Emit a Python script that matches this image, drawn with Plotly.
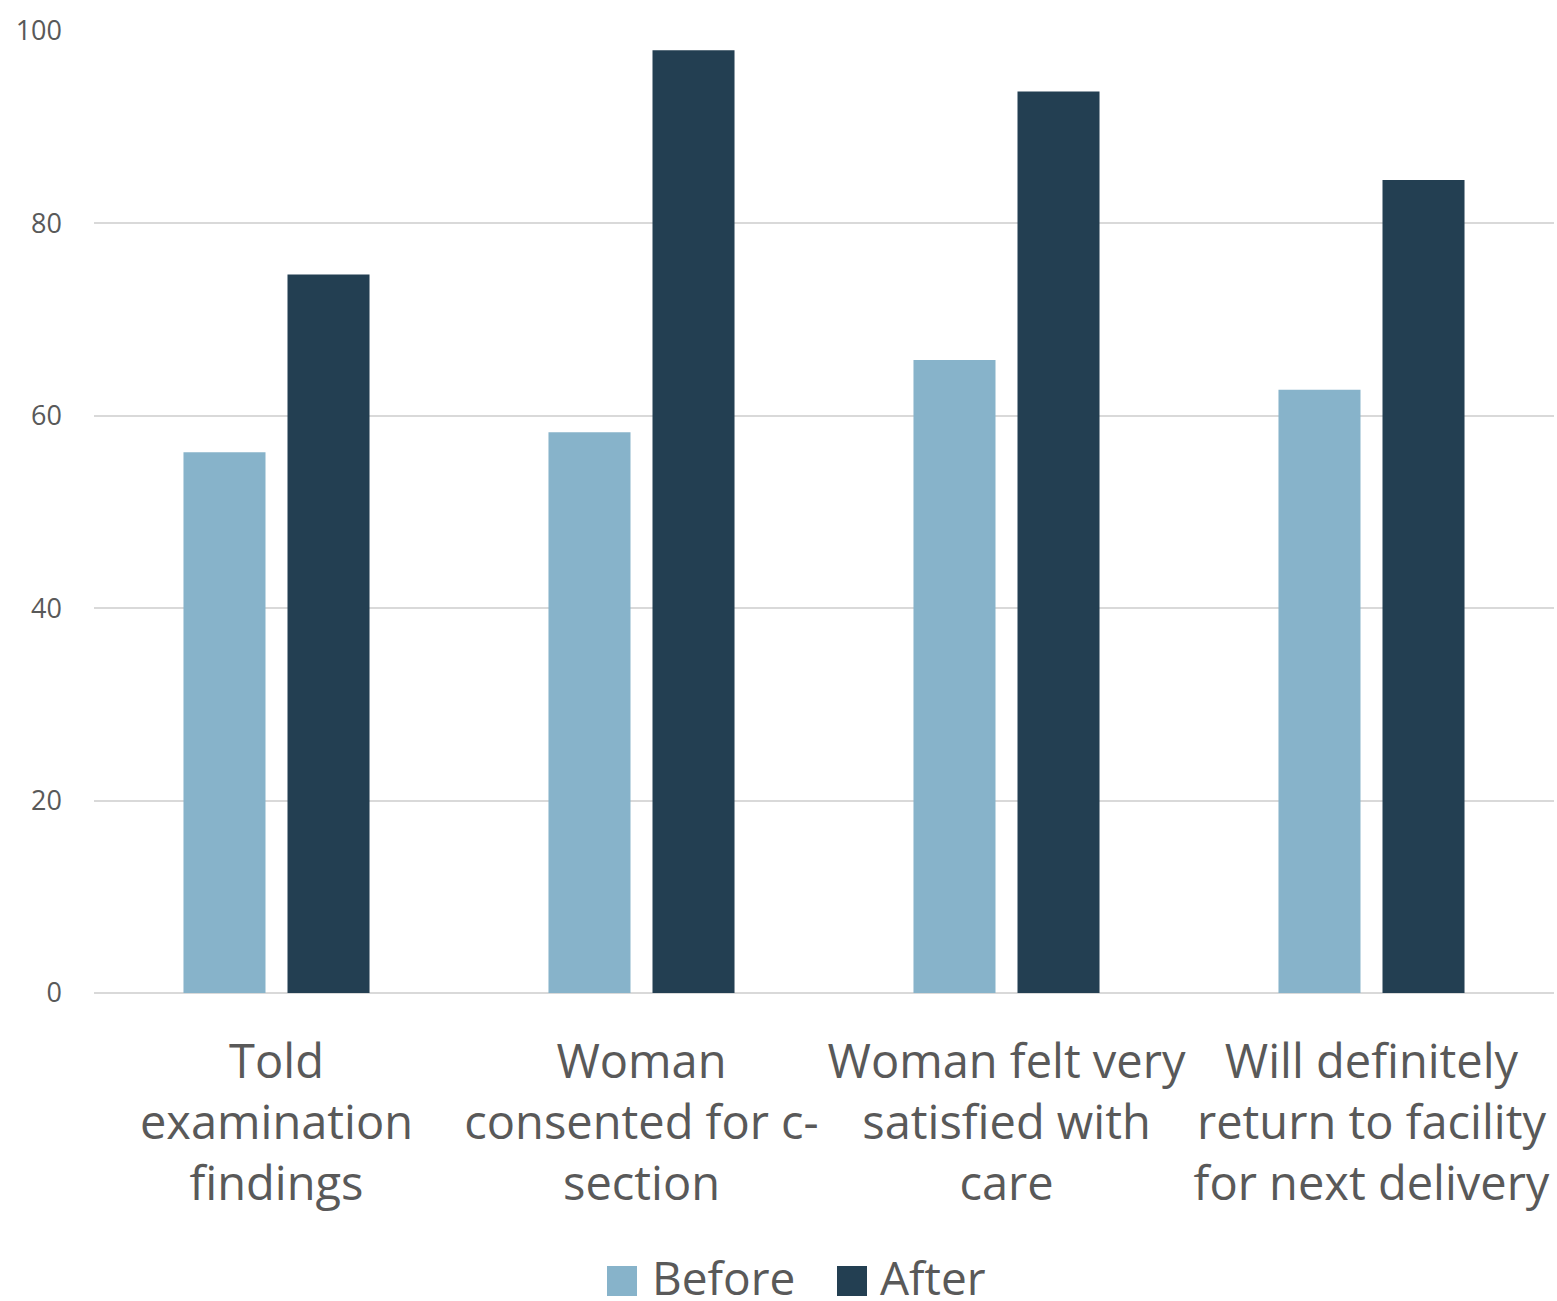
import plotly.graph_objects as go

categories = [
    "Told<br>examination<br>findings",
    "Woman<br>consented for c-<br>section",
    "Woman felt very<br>satisfied with<br>care",
    "Will definitely<br>return to facility<br>for next delivery",
]
before_values = [56.2, 58.3, 65.8, 62.7]
after_values = [74.7, 98.0, 93.7, 84.5]
series_names = ["Before", "After"]
y_ticks = [0, 20, 40, 60, 80, 100]

BEFORE_COLOR = "#87B3CA"
AFTER_COLOR = "#233F52"
TEXT_COLOR = "#595959"
GRID_COLOR = "#D9D9D9"
FONT = "'Open Sans', sans-serif"

W, H = 1557, 1301
L, R, T, B = 94, 3, 31, 308

fig = go.Figure()
fig.add_trace(go.Bar(x=categories, y=before_values, name=series_names[0],
                     marker=dict(color=BEFORE_COLOR, line=dict(width=0)), showlegend=False))
fig.add_trace(go.Bar(x=categories, y=after_values, name=series_names[1],
                     marker=dict(color=AFTER_COLOR, line=dict(width=0)), showlegend=False))

# manual legend (big squares like the original)
pw, ph = W - L - R, H - T - B
def px2x(px):
    return (px - L) / pw
def py2y(py):
    return (H - B - py) / ph

legend_items = [(series_names[0], BEFORE_COLOR, 607, 650), (series_names[1], AFTER_COLOR, 837, 878)]
shapes = []
annotations = []
for name, color, sq_x, txt_x in legend_items:
    shapes.append(dict(type="rect", xref="paper", yref="paper",
                       x0=px2x(sq_x), x1=px2x(sq_x + 30),
                       y0=py2y(1296), y1=py2y(1266),
                       fillcolor=color, line=dict(width=0)))
    annotations.append(dict(text=name, xref="paper", yref="paper",
                            x=px2x(txt_x), y=py2y(1277), xanchor="left", yanchor="middle",
                            showarrow=False, font=dict(family=FONT, size=46, color=TEXT_COLOR)))

fig.update_layout(
    width=W, height=H,
    margin=dict(l=L, r=R, t=T, b=B),
    paper_bgcolor="white", plot_bgcolor="white",
    barmode="group", bargap=0.43, bargroupgap=0.2115,
    font=dict(family=FONT, color=TEXT_COLOR),
    shapes=shapes, annotations=annotations,
    showlegend=False,
)
fig.update_xaxes(
    type="category", showgrid=False, showline=False, zeroline=False,
    tickfont=dict(family=FONT, size=47, color=TEXT_COLOR),
    ticks="", ticklabelstandoff=37, tickangle=0,
)
fig.update_yaxes(
    range=[0, 100], tickvals=y_ticks, showgrid=True, gridcolor=GRID_COLOR, gridwidth=2,
    zeroline=True, zerolinecolor=GRID_COLOR, zerolinewidth=2, showline=False,
    tickfont=dict(family=FONT, size=27, color=TEXT_COLOR),
    ticks="", ticklabelstandoff=31,
)
fig.write_html("out.html")
